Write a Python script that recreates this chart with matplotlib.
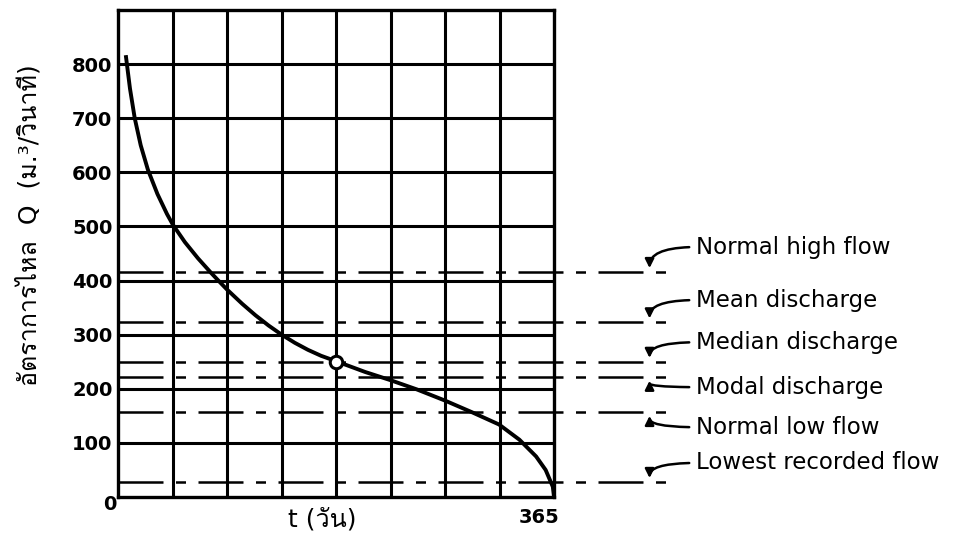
import numpy as np
import matplotlib
matplotlib.use('Agg')
import matplotlib.pyplot as plt
from matplotlib import font_manager
from fontTools.ttLib import TTFont


# flow duration curve
days = [6.7, 10, 14, 19, 25, 33, 41, 46, 56, 67, 78, 84, 91, 104, 115, 126, 137,
        148, 159, 170, 182.5, 207, 228, 250, 274, 296, 319, 336, 350, 358, 364, 365]
flow = [813, 755, 700, 650, 605, 560, 523, 503, 471, 441, 414, 400, 384, 357, 336, 317, 300,
        285, 272, 261, 251, 231, 216, 199, 178, 157, 134, 106, 75, 50, 19, 0]

# characteristic flows
names = ['Normal high flow', 'Mean discharge', 'Median discharge',
         'Modal discharge', 'Normal low flow', 'Lowest recorded flow']
levels = [416, 323, 250, 222, 157, 28]
yticks = [100, 200, 300, 400, 500, 600, 700, 800]


# find a font that has Thai glyphs
thai = []
for f in font_manager.fontManager.ttflist:
    try:
        cmap = TTFont(f.fname, fontNumber=0, lazy=True).getBestCmap()
        if cmap and 0x0E2D in cmap and f.name not in thai:
            thai.append(f.name)
    except Exception:
        pass
plt.rcParams['font.family'] = ['DejaVu Sans'] + thai


fig = plt.figure(figsize=(9.65, 5.42), dpi=100)
ax = fig.add_axes([0.1223, 0.0830, 0.4518, 0.8985])

ax.set_xlim(0, 365)
ax.set_ylim(0, 900)

for x in np.arange(1, 8) * 365 / 8:
    ax.axvline(x, color='black', lw=2.2)
for y in yticks:
    ax.axhline(y, color='black', lw=2.2)
for s in ax.spines.values():
    s.set_linewidth(2.4)

# dashed reference lines run past the chart to the labels
for q in levels:
    ax.plot([0, 464], [q, q], color='black', lw=1.8,
            linestyle=(0, (18, 5, 4, 5)), clip_on=False)

ax.plot(days, flow, color='black', lw=2.8)
ax.plot([182.5], [250], 'o', ms=9, mfc='white', mec='black', mew=2.2)

text_y = [462, 364, 286, 203, 129, 63]
for name, ty, q in zip(names, text_y, levels):
    tip = q + 7 if ty > q else q - 7
    ax.annotate(name, xy=(445, tip), xytext=(484, ty),
                fontsize=16.5, va='center', ha='left', annotation_clip=False,
                arrowprops=dict(arrowstyle='-|>', color='black', lw=1.8,
                                mutation_scale=13, shrinkA=3, shrinkB=0,
                                relpos=(0, 0.5),
                                connectionstyle='angle3,angleA=0,angleB=90'))

ax.set_yticks(yticks)
ax.set_yticklabels([str(v) for v in yticks], fontsize=14, fontweight='bold')
ax.set_xticks([])
ax.tick_params(length=0, pad=4)

# axis end labels and titles
ax.text(-0.018, -0.016, '0', transform=ax.transAxes, fontsize=14,
        fontweight='bold', ha='center', va='center')
ax.text(0.965, -0.043, '365', transform=ax.transAxes, fontsize=14,
        fontweight='bold', ha='center', va='center')
ax.text(0.468, -0.047, 't (วัน)', transform=ax.transAxes, fontsize=18,
        ha='center', va='center')
fig.text(29 / 965, 1 - 225 / 542, 'อัตราการไหล  Q  (ม.³/วินาที)', fontsize=18,
         rotation=90, ha='center', va='center')

fig.savefig('out.png', dpi=100)
